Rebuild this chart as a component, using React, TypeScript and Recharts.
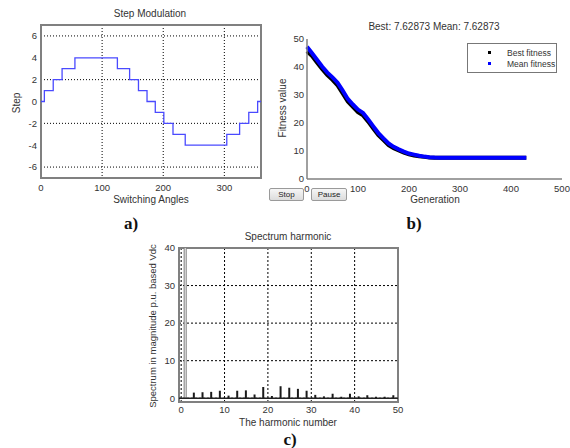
import React from "react";
import {
  LineChart,
  Line,
  ComposedChart,
  Bar,
  Cell,
  XAxis,
  YAxis,
  CartesianGrid,
  ReferenceArea,
  ReferenceLine,
  Legend,
} from "recharts";

// a) step modulation: switching angles (deg) and step level held after each
const stepAngles = [0, 5.5, 20, 34.5, 55.5, 125, 145, 159.5, 173.5, 187, 201, 216, 236, 304, 325, 340, 354.5, 360];
const stepLevels = [0, 1, 2, 3, 4, 3, 2, 1, 0, -1, -2, -3, -4, -3, -2, -1, 0, 0];

// b) GA fitness, sampled every 10 generations
const generations = [
  0, 10, 20, 30, 40, 50, 60, 70, 80, 90, 100, 110, 120, 130, 140, 150, 160, 170, 180, 190, 200,
  210, 220, 230, 240, 250, 260, 270, 280, 290, 300, 310, 320, 330, 340, 350, 360, 370, 380, 390,
  400, 410, 420, 430,
];
const meanFitness = [
  47.2, 44.9, 42.5, 40.1, 38.0, 36.3, 34.4, 31.6, 28.6, 26.6, 24.8, 23.6, 21.3, 18.8, 16.4, 14.5,
  12.7, 11.5, 10.6, 9.8, 9.1, 8.7, 8.3, 8.0, 7.8, 7.65, 7.63, 7.63, 7.63, 7.63, 7.63, 7.63, 7.63,
  7.63, 7.63, 7.63, 7.63, 7.63, 7.63, 7.63, 7.63, 7.63, 7.63, 7.63,
];
const bestFitness = [
  45.6, 43.9, 41.5, 39.2, 37.1, 35.4, 33.4, 30.6, 27.7, 25.8, 23.9, 22.7, 20.5, 18.0, 15.7, 13.9,
  12.1, 11.0, 10.2, 9.4, 8.8, 8.4, 8.1, 7.9, 7.7, 7.63, 7.63, 7.63, 7.63, 7.63, 7.63, 7.63, 7.63,
  7.63, 7.63, 7.63, 7.63, 7.63, 7.63, 7.63, 7.63, 7.63, 7.63, 7.63,
];

// c) harmonic spectrum (fundamental runs off the top)
const harmonics = [1, 3, 5, 7, 9, 11, 13, 15, 17, 19, 21, 23, 25, 27, 29, 31, 33, 35, 37, 39, 41, 43, 45, 47, 49];
const magnitudes = [100, 1.5, 1.6, 1.7, 2.0, 0.7, 2.0, 2.1, 1.0, 3.0, 0.6, 3.2, 2.8, 2.5, 2.0, 0.9, 0.5, 1.2, 0.4, 1.2, 0.5, 0.8, 0.4, 0.4, 0.8];

const stepData = stepAngles.map((angle, i) => ({ angle, step: stepLevels[i] }));
const fitnessData = generations.map((gen, i) => ({ gen, best: bestFitness[i], mean: meanFitness[i] }));
const spectrumData = harmonics.map((h, i) => ({ h, mag: magnitudes[i] }));

const FONT = "'Liberation Sans', Arial, sans-serif";
const tickStyle = { fill: "#333", fontSize: 9.5, fontFamily: FONT };
const GRAY = "#808080";

const Txt = ({ x, y, children, size = 10, rotate = false, style = {} }: any) => (
  <div
    style={{
      position: "absolute",
      left: x,
      top: y,
      transform: `translate(-50%, -50%)${rotate ? " rotate(-90deg)" : ""}`,
      whiteSpace: "nowrap",
      fontSize: size,
      fontFamily: FONT,
      color: "#333",
      lineHeight: 1,
      ...style,
    }}
  >
    {children}
  </div>
);

const Btn = ({ x, w, label }: any) => (
  <div
    style={{
      position: "absolute",
      left: x,
      top: 188,
      width: w,
      height: 13,
      boxSizing: "border-box",
      border: "1px solid #9a9a9a",
      borderRadius: 2,
      background: "linear-gradient(#f6f6f6, #dcdcdc)",
      fontSize: 8,
      fontFamily: FONT,
      color: "#222",
      textAlign: "center",
      lineHeight: "11px",
    }}
  >
    {label}
  </div>
);

const FitnessLegend = () => (
  <div
    style={{
      width: 90,
      height: 30,
      boxSizing: "border-box",
      border: "1px solid #777",
      background: "#fff",
      fontSize: 8.5,
      fontFamily: FONT,
      color: "#333",
      padding: "3px 0 0 0",
    }}
  >
    {[
      { name: "Best fitness", color: "#000" },
      { name: "Mean fitness", color: "#0000ff" },
    ].map((e) => (
      <div key={e.name} style={{ display: "flex", alignItems: "center", height: 11 }}>
        <span style={{ width: 3, height: 3, background: e.color, marginLeft: 20, marginRight: 16 }} />
        <span>{e.name}</span>
      </div>
    ))}
  </div>
);

const label = (x: number, y: number, text: string) => (
  <div
    style={{
      position: "absolute",
      left: x,
      top: y,
      transform: "translate(-50%, -50%)",
      fontFamily: "'Liberation Serif', 'Times New Roman', serif",
      fontWeight: "bold",
      fontSize: 17,
      color: "#111",
    }}
  >
    {text}
  </div>
);

export default function App() {
  return (
    <div style={{ position: "absolute", left: 0, top: 0, width: 570, height: 448, background: "#fff", overflow: "hidden" }}>
      {/* a) */}
      <div style={{ position: "absolute", left: 0, top: 0 }}>
        <LineChart width={280} height={210} data={stepData} margin={{ top: 25, right: 19, bottom: 12, left: 16 }}>
          <CartesianGrid stroke="#000" strokeDasharray="1 2" />
          <XAxis
            dataKey="angle"
            type="number"
            domain={[0, 360]}
            ticks={[0, 100, 200, 300]}
            height={20}
            tickSize={0}
            tickMargin={6}
            axisLine={false}
            tick={tickStyle}
          />
          <YAxis
            type="number"
            domain={[-7, 7]}
            ticks={[-6, -4, -2, 0, 2, 4, 6]}
            width={25}
            tickSize={0}
            tickMargin={4}
            axisLine={false}
            tick={tickStyle}
          />
          <ReferenceArea x1={0} x2={360} y1={-7} y2={7} fill="none" fillOpacity={0} stroke={GRAY} strokeWidth={2} />
          <Line type="stepAfter" dataKey="step" stroke="#4a4aff" strokeWidth={1.3} dot={false} isAnimationActive={false} />
        </LineChart>
      </div>
      <Txt x={150} y={14}>Step Modulation</Txt>
      <Txt x={151} y={200}>Switching Angles</Txt>
      <Txt x={17} y={103} rotate>Step</Txt>

      {/* b) */}
      <div style={{ position: "absolute", left: 282, top: 0 }}>
        <LineChart width={288} height={210} data={fitnessData} margin={{ top: 39, right: 8, bottom: 11, left: 0 }}>
          <XAxis
            dataKey="gen"
            type="number"
            domain={[0, 500]}
            ticks={[0, 100, 200, 300, 400, 500]}
            height={20}
            tickSize={0}
            tickMargin={6}
            stroke={GRAY}
            strokeWidth={1.5}
            tick={tickStyle}
          />
          <YAxis
            type="number"
            domain={[0, 50]}
            ticks={[0, 10, 20, 30, 40, 50]}
            width={25}
            tickSize={0}
            tickMargin={3}
            stroke={GRAY}
            strokeWidth={1.5}
            tick={tickStyle}
          />
          <Legend
            layout="vertical"
            align="center"
            verticalAlign="middle"
            content={<FitnessLegend />}
            wrapperStyle={{ position: "absolute", left: 185, top: 43, width: 90, height: 30 }}
          />
          <Line type="linear" dataKey="best" stroke="#000" strokeWidth={4} dot={false} isAnimationActive={false} />
          <Line type="linear" dataKey="mean" stroke="#0000ff" strokeWidth={4} dot={false} isAnimationActive={false} />
        </LineChart>
      </div>
      <Txt x={434} y={27}>Best: 7.62873 Mean: 7.62873</Txt>
      <Txt x={283} y={108} rotate>Fitness value</Txt>
      <Txt x={435} y={200}>Generation</Txt>
      <Btn x={269} w={35} label="Stop" />
      <Btn x={311} w={36} label="Pause" />

      {/* c) */}
      <div style={{ position: "absolute", left: 150, top: 240 }}>
        <ComposedChart width={260} height={186} data={spectrumData} margin={{ top: 8, right: 12, bottom: 4, left: 0 }}>
          <CartesianGrid stroke="#000" strokeDasharray="2 2" />
          <XAxis
            dataKey="h"
            type="number"
            domain={[-0.5, 50]}
            allowDataOverflow
            ticks={[0, 10, 20, 30, 40, 50]}
            height={20}
            tickSize={0}
            tickMargin={4}
            axisLine={false}
            tick={tickStyle}
          />
          <YAxis
            type="number"
            domain={[-1, 40]}
            allowDataOverflow
            ticks={[0, 10, 20, 30, 40]}
            width={29}
            tickSize={0}
            tickMargin={4}
            axisLine={false}
            tick={tickStyle}
          />
          <ReferenceLine y={0} stroke="#222" strokeWidth={1.5} />
          <Bar dataKey="mag" barSize={2} isAnimationActive={false}>
            {spectrumData.map((d) => (
              <Cell
                key={d.h}
                fill={d.h === 1 ? "#fff" : "#1a1a1a"}
                stroke={d.h === 1 ? "#777" : "none"}
                strokeWidth={d.h === 1 ? 1 : 0}
              />
            ))}
          </Bar>
          <ReferenceArea x1={-0.5} x2={50} y1={-1} y2={40} fill="none" fillOpacity={0} stroke={GRAY} strokeWidth={2} />
        </ComposedChart>
      </div>
      <Txt x={288} y={237}>Spectrum harmonic</Txt>
      <Txt x={153} y={326} size={9.5} rotate>Spectrum in magnitude p.u. based Vdc</Txt>
      <Txt x={288} y={423}>The harmonic number</Txt>

      {label(131, 224, "a)")}
      {label(414, 224, "b)")}
      {label(290, 440, "c)")}
    </div>
  );
}
